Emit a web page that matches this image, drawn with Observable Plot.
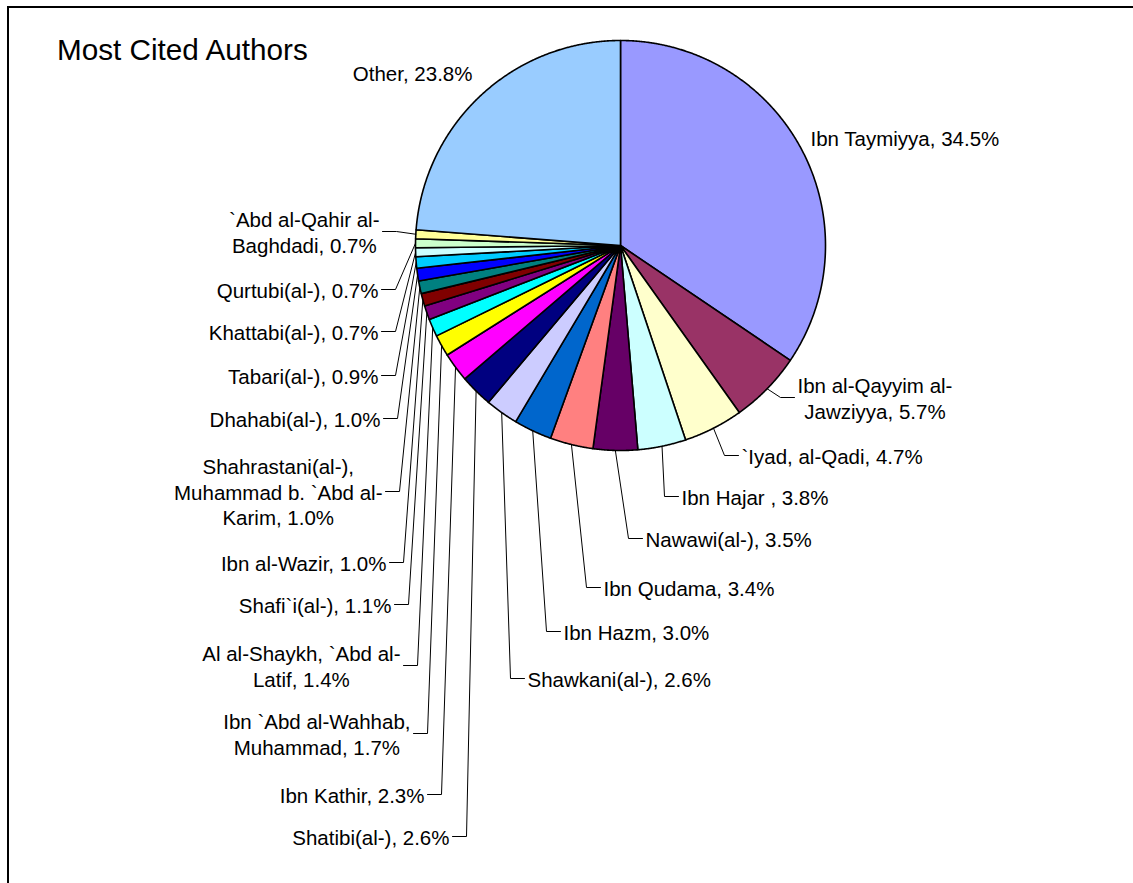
<!DOCTYPE html>
<html><head><meta charset="utf-8">
<script src="https://cdn.jsdelivr.net/npm/d3@7"></script>
<script src="https://cdn.jsdelivr.net/npm/@observablehq/plot@0.6"></script>
<style>
html,body{margin:0;padding:0;overflow:hidden;background:#fff;width:1133px;height:883px;}
#chart{position:absolute;left:0;top:0;}
#frame{position:absolute;left:7px;top:6px;width:1126px;height:877px;border-left:2px solid #000;border-top:2px solid #000;box-sizing:border-box;pointer-events:none;}
#title{position:absolute;left:57px;top:33px;font-family:"Liberation Sans",Arial,sans-serif;font-size:29.7px;color:#000;white-space:nowrap;}
</style></head><body>
<div id="chart"></div>
<div id="frame"></div>
<div id="title">Most Cited Authors</div>
<script>
// ---- data (clockwise from 12 o'clock) ----
const names = ["Ibn Taymiyya","Ibn al-Qayyim al-Jawziyya","`Iyad, al-Qadi","Ibn Hajar ","Nawawi(al-)","Ibn Qudama","Ibn Hazm","Shawkani(al-)","Shatibi(al-)","Ibn Kathir","Ibn `Abd al-Wahhab, Muhammad","Al al-Shaykh, `Abd al-Latif","Shafi`i(al-)","Ibn al-Wazir","Shahrastani(al-), Muhammad b. `Abd al-Karim","Dhahabi(al-)","Tabari(al-)","Khattabi(al-)","Qurtubi(al-)","`Abd al-Qahir al-Baghdadi","Other"];
const values = [34.5,5.7,4.7,3.8,3.5,3.4,3.0,2.6,2.6,2.3,1.7,1.4,1.1,1.0,1.0,1.0,0.9,0.7,0.7,0.7,23.8];
const colors = ["#9999FF","#993366","#FFFFCC","#CCFFFF","#660066","#FF8080","#0066CC","#CCCCFF","#000080","#FF00FF","#FFFF00","#00FFFF","#800080","#800000","#008080","#0000FF","#00CCFF","#CCFFFF","#CCFFCC","#FFFF99","#99CCFF"];

// ---- label layout (chart pixel units) ----
const labelSide = ["R","R","R","R","R","R","R","R","L","L","L","L","L","L","L","L","L","L","L","L","L"];
const labelX = [810,797,741,681,645,603,563,527,449,424,410,400,391,386,382,380,378,378,378,379,472];
const labelY = [137,397,455,496,538,587,631,678,836,794,733,665,604,562,491,418,375,331,289,231,72];
const leader = [false,true,true,true,true,true,true,true,true,true,true,true,true,true,true,true,true,true,true,true,false];

const W = 1133, H = 883;
const pie = {cx: 620, cy: 245, r: 205};
const FONT = "Liberation Sans, Arial, sans-serif";
const FS = 20.5, LH = 1.25, WRAP = 215, GAP = 3, SEG = 14;

const ctx = document.createElement("canvas").getContext("2d");
ctx.font = `${FS}px "Liberation Sans", Arial, sans-serif`;
const measure = s => ctx.measureText(s).width;

function tokens(s) {
  const out = []; let cur = "";
  for (let i = 0; i < s.length; i++) {
    cur += s[i];
    if (s[i] === " " || (s[i] === "-" && /[A-Za-z]/.test(s[i + 1] || ""))) { out.push(cur); cur = ""; }
  }
  if (cur) out.push(cur);
  return out;
}
function wrap(s) {
  const lines = []; let line = "";
  for (const t of tokens(s)) {
    if (line && measure((line + t).trimEnd()) > WRAP) { lines.push(line.trimEnd()); line = t; }
    else line += t;
  }
  if (line) lines.push(line.trimEnd());
  return lines;
}

const arcs = d3.pie().sort(null).value(d => d)(values);
const pt = (a, rr) => [pie.cx + rr * Math.sin(a), pie.cy - rr * Math.cos(a)];

const slicePts = [];
arcs.forEach((a, i) => {
  slicePts.push({name: names[i], color: colors[i], x: pie.cx, y: pie.cy});
  const n = Math.max(2, Math.ceil((a.endAngle - a.startAngle) / 0.004));
  for (let k = 0; k <= n; k++) {
    const [x, y] = pt(a.startAngle + (a.endAngle - a.startAngle) * k / n, pie.r);
    slicePts.push({name: names[i], color: colors[i], x, y});
  }
});

const labels = arcs.map((a, i) => {
  const lines = wrap(`${names[i]}, ${values[i].toFixed(1)}%`);
  const dir = labelSide[i] === "R" ? 1 : -1;
  const maxW = d3.max(lines, measure);
  return {
    i, lines, text: lines.join("\n"), dir,
    x: lines.length > 1 ? labelX[i] + dir * maxW / 2 : labelX[i],
    y: labelY[i],
    anchor: lines.length > 1 ? "middle" : (dir > 0 ? "start" : "end"),
    mid: (a.startAngle + a.endAngle) / 2
  };
});

const leaderPts = [];
labels.forEach(l => {
  if (!leader[l.i]) return;
  const [ex, ey] = pt(l.mid, pie.r);
  const hx = labelX[l.i] - l.dir * GAP;
  leaderPts.push({name: names[l.i], x: ex, y: ey});
  leaderPts.push({name: names[l.i], x: hx - l.dir * SEG, y: l.y});
  leaderPts.push({name: names[l.i], x: hx, y: l.y});
});

const textMark = anchor => Plot.text(labels.filter(l => l.anchor === anchor), {
  x: "x", y: "y", text: "text", textAnchor: anchor, lineAnchor: "middle",
  lineHeight: LH, fontSize: FS, fill: "#000"
});

const chart = Plot.plot({
  width: W, height: H, margin: 0,
  x: {domain: [0, W], range: [0, W], axis: null},
  y: {domain: [0, H], range: [0, H], axis: null},
  color: {type: "identity"},
  style: {fontFamily: FONT, background: "transparent", overflow: "visible"},
  marks: [
    Plot.line(slicePts, {x: "x", y: "y", z: "name", fill: "color", stroke: "#000", strokeWidth: 1.6, strokeLinejoin: "round", curve: "linear-closed"}),
    Plot.line(leaderPts, {x: "x", y: "y", z: "name", stroke: "#000", strokeWidth: 1}),
    textMark("start"), textMark("end"), textMark("middle")
  ]
});
document.getElementById("chart").appendChild(chart);
</script>
</body></html>
